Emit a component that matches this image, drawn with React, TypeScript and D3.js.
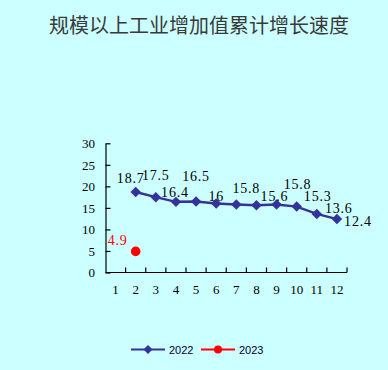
import { useEffect, useRef } from "react";
import * as d3 from "d3";

const TITLE = "规模以上工业增加值累计增长速度";
const MONTHS = ["1", "2", "3", "4", "5", "6", "7", "8", "9", "10", "11", "12"];
const Y_TICKS = [0, 5, 10, 15, 20, 25, 30];

// 2022 cumulative growth, Feb..Dec
const MONTHS_2022 = ["2", "3", "4", "5", "6", "7", "8", "9", "10", "11", "12"];
const VALUES_2022 = [18.7, 17.5, 16.4, 16.5, 16, 15.8, 15.6, 15.8, 15.3, 13.6, 12.4];
const LABELS_2022 = ["18.7", "17.5", "16.4", "16.5", "16", "15.8", "15.6", "15.8", "15.3", "13.6", "12.4"];

// 2023, Feb only
const MONTHS_2023 = ["2"];
const VALUES_2023 = [4.9];
const LABELS_2023 = ["4.9"];

const SERIES_NAMES = ["2022", "2023"];

// label nudges (centre dx, baseline dy) like the hand-placed excel labels
const LABEL_NUDGE_2022 = [[-5, -9], [0, -17], [-1, -5], [0, -20], [0, -3], [10, -11], [18, -4], [21, -15], [21, -6], [22, -1], [21, 7]];
const LABEL_NUDGE_2023 = [[-18, -6]];

const BLUE = "#333399";
const RED = "#ff0000";

export default function App() {
  const svgRef = useRef<SVGSVGElement>(null);

  useEffect(() => {
    if (!svgRef.current) return;
    const W = 388, H = 370;
    const svg = d3.select(svgRef.current);
    svg.selectAll("*").remove();
    svg.attr("width", W).attr("height", H);

    svg.append("rect").attr("width", W).attr("height", H).attr("fill", "#ccffff");

    // Title
    svg.append("text")
      .attr("x", 199).attr("y", 33)
      .attr("text-anchor", "middle")
      .attr("font-family", "'Noto Sans CJK SC', sans-serif")
      .attr("font-size", 20).attr("fill", "#3a3a3a")
      .text(TITLE);

    const x = d3.scaleBand<string>().domain(MONTHS).range([105.5, 347]);
    const y = d3.scaleLinear().domain([0, 30]).range([272.5, 143.3]);
    const bw = x.bandwidth();
    const cx = (m: string) => (x(m) ?? 0) + bw / 2;

    // Y axis (ticks inward)
    svg.append("g").attr("transform", "translate(105.5,0)")
      .call(d3.axisLeft(y).tickValues(Y_TICKS).tickSizeInner(-5).tickSizeOuter(0).tickPadding(10.5))
      .call(ax => ax.select(".domain").attr("stroke", "#000").attr("stroke-width", 1.2))
      .call(ax => ax.selectAll("line").attr("stroke", "#000").attr("stroke-width", 1.2))
      .call(ax => ax.selectAll("text").attr("font-family", "'Liberation Serif', serif").attr("font-size", 13).attr("fill", "#000"));

    // X axis, ticks on the category boundaries pointing up
    const xa = svg.append("g");
    const y0 = y(0);
    xa.append("line").attr("x1", 105.5).attr("x2", 347).attr("y1", y0).attr("y2", y0)
      .attr("stroke", "#000").attr("stroke-width", 1.2);
    const bounds = MONTHS.map(m => x(m) ?? 0).slice(1).concat([347]);
    xa.selectAll("line.tick").data(bounds).join("line")
      .attr("class", "tick")
      .attr("x1", d => d).attr("x2", d => d)
      .attr("y1", y0).attr("y2", y0 - 5)
      .attr("stroke", "#000").attr("stroke-width", 1.2);
    xa.selectAll("text").data(MONTHS).join("text")
      .attr("x", d => cx(d)).attr("y", 294)
      .attr("text-anchor", "middle")
      .attr("font-family", "'Liberation Serif', serif").attr("font-size", 13).attr("fill", "#000")
      .text(d => d);

    // 2022 line
    const pts22 = MONTHS_2022.map((m, i) => ({ m, v: VALUES_2022[i] }));
    const line = d3.line<{ m: string; v: number }>().x(d => cx(d.m)).y(d => y(d.v));
    svg.append("path").datum(pts22)
      .attr("d", line).attr("fill", "none")
      .attr("stroke", BLUE).attr("stroke-width", 2.5);

    const diamond = d3.symbol().type(d3.symbolSquare).size(55);
    svg.selectAll("path.dia").data(pts22).join("path")
      .attr("class", "dia")
      .attr("d", diamond)
      .attr("transform", d => `translate(${cx(d.m)},${y(d.v)}) rotate(45)`)
      .attr("fill", BLUE);

    const labelFont = (sel: any) => sel
      .attr("text-anchor", "middle")
      .attr("font-family", "'Liberation Serif', serif")
      .attr("font-size", 14)
      .attr("letter-spacing", 0.8);

    svg.selectAll("text.l22").data(pts22).join("text")
      .attr("class", "l22")
      .attr("x", (d, i) => cx(d.m) + LABEL_NUDGE_2022[i][0])
      .attr("y", (d, i) => y(d.v) + LABEL_NUDGE_2022[i][1])
      .attr("fill", "#000")
      .call(labelFont)
      .text((d, i) => LABELS_2022[i]);

    // 2023
    const pts23 = MONTHS_2023.map((m, i) => ({ m, v: VALUES_2023[i] }));
    svg.selectAll("circle.p23").data(pts23).join("circle")
      .attr("class", "p23")
      .attr("cx", d => cx(d.m)).attr("cy", d => y(d.v)).attr("r", 4.8)
      .attr("fill", RED);
    svg.selectAll("text.l23").data(pts23).join("text")
      .attr("class", "l23")
      .attr("x", (d, i) => cx(d.m) + LABEL_NUDGE_2023[i][0])
      .attr("y", (d, i) => y(d.v) + LABEL_NUDGE_2023[i][1])
      .attr("fill", RED)
      .call(labelFont)
      .text((d, i) => LABELS_2023[i]);

    // Legend
    const ly = 349.5;
    const lg = svg.append("g");
    const legendX = [131, 201];
    SERIES_NAMES.forEach((name, i) => {
      const x0 = legendX[i];
      const color = i === 0 ? BLUE : RED;
      lg.append("line").attr("x1", x0).attr("x2", x0 + 34).attr("y1", ly).attr("y2", ly)
        .attr("stroke", color).attr("stroke-width", 2);
      if (i === 0) {
        lg.append("path").attr("d", d3.symbol().type(d3.symbolSquare).size(40))
          .attr("transform", `translate(${x0 + 17},${ly}) rotate(45)`).attr("fill", color);
      } else {
        lg.append("circle").attr("cx", x0 + 17).attr("cy", ly).attr("r", 4).attr("fill", color);
      }
      lg.append("text").attr("x", x0 + 38).attr("y", ly + 4)
        .attr("font-family", "'Liberation Sans', Arial, sans-serif")
        .attr("font-size", 11).attr("fill", "#000033")
        .text(name);
    });
  }, []);

  return (
    <div style={{ position: "absolute", left: 0, top: 0, width: 388, height: 370 }}>
      <svg ref={svgRef} style={{ display: "block" }} />
    </div>
  );
}
